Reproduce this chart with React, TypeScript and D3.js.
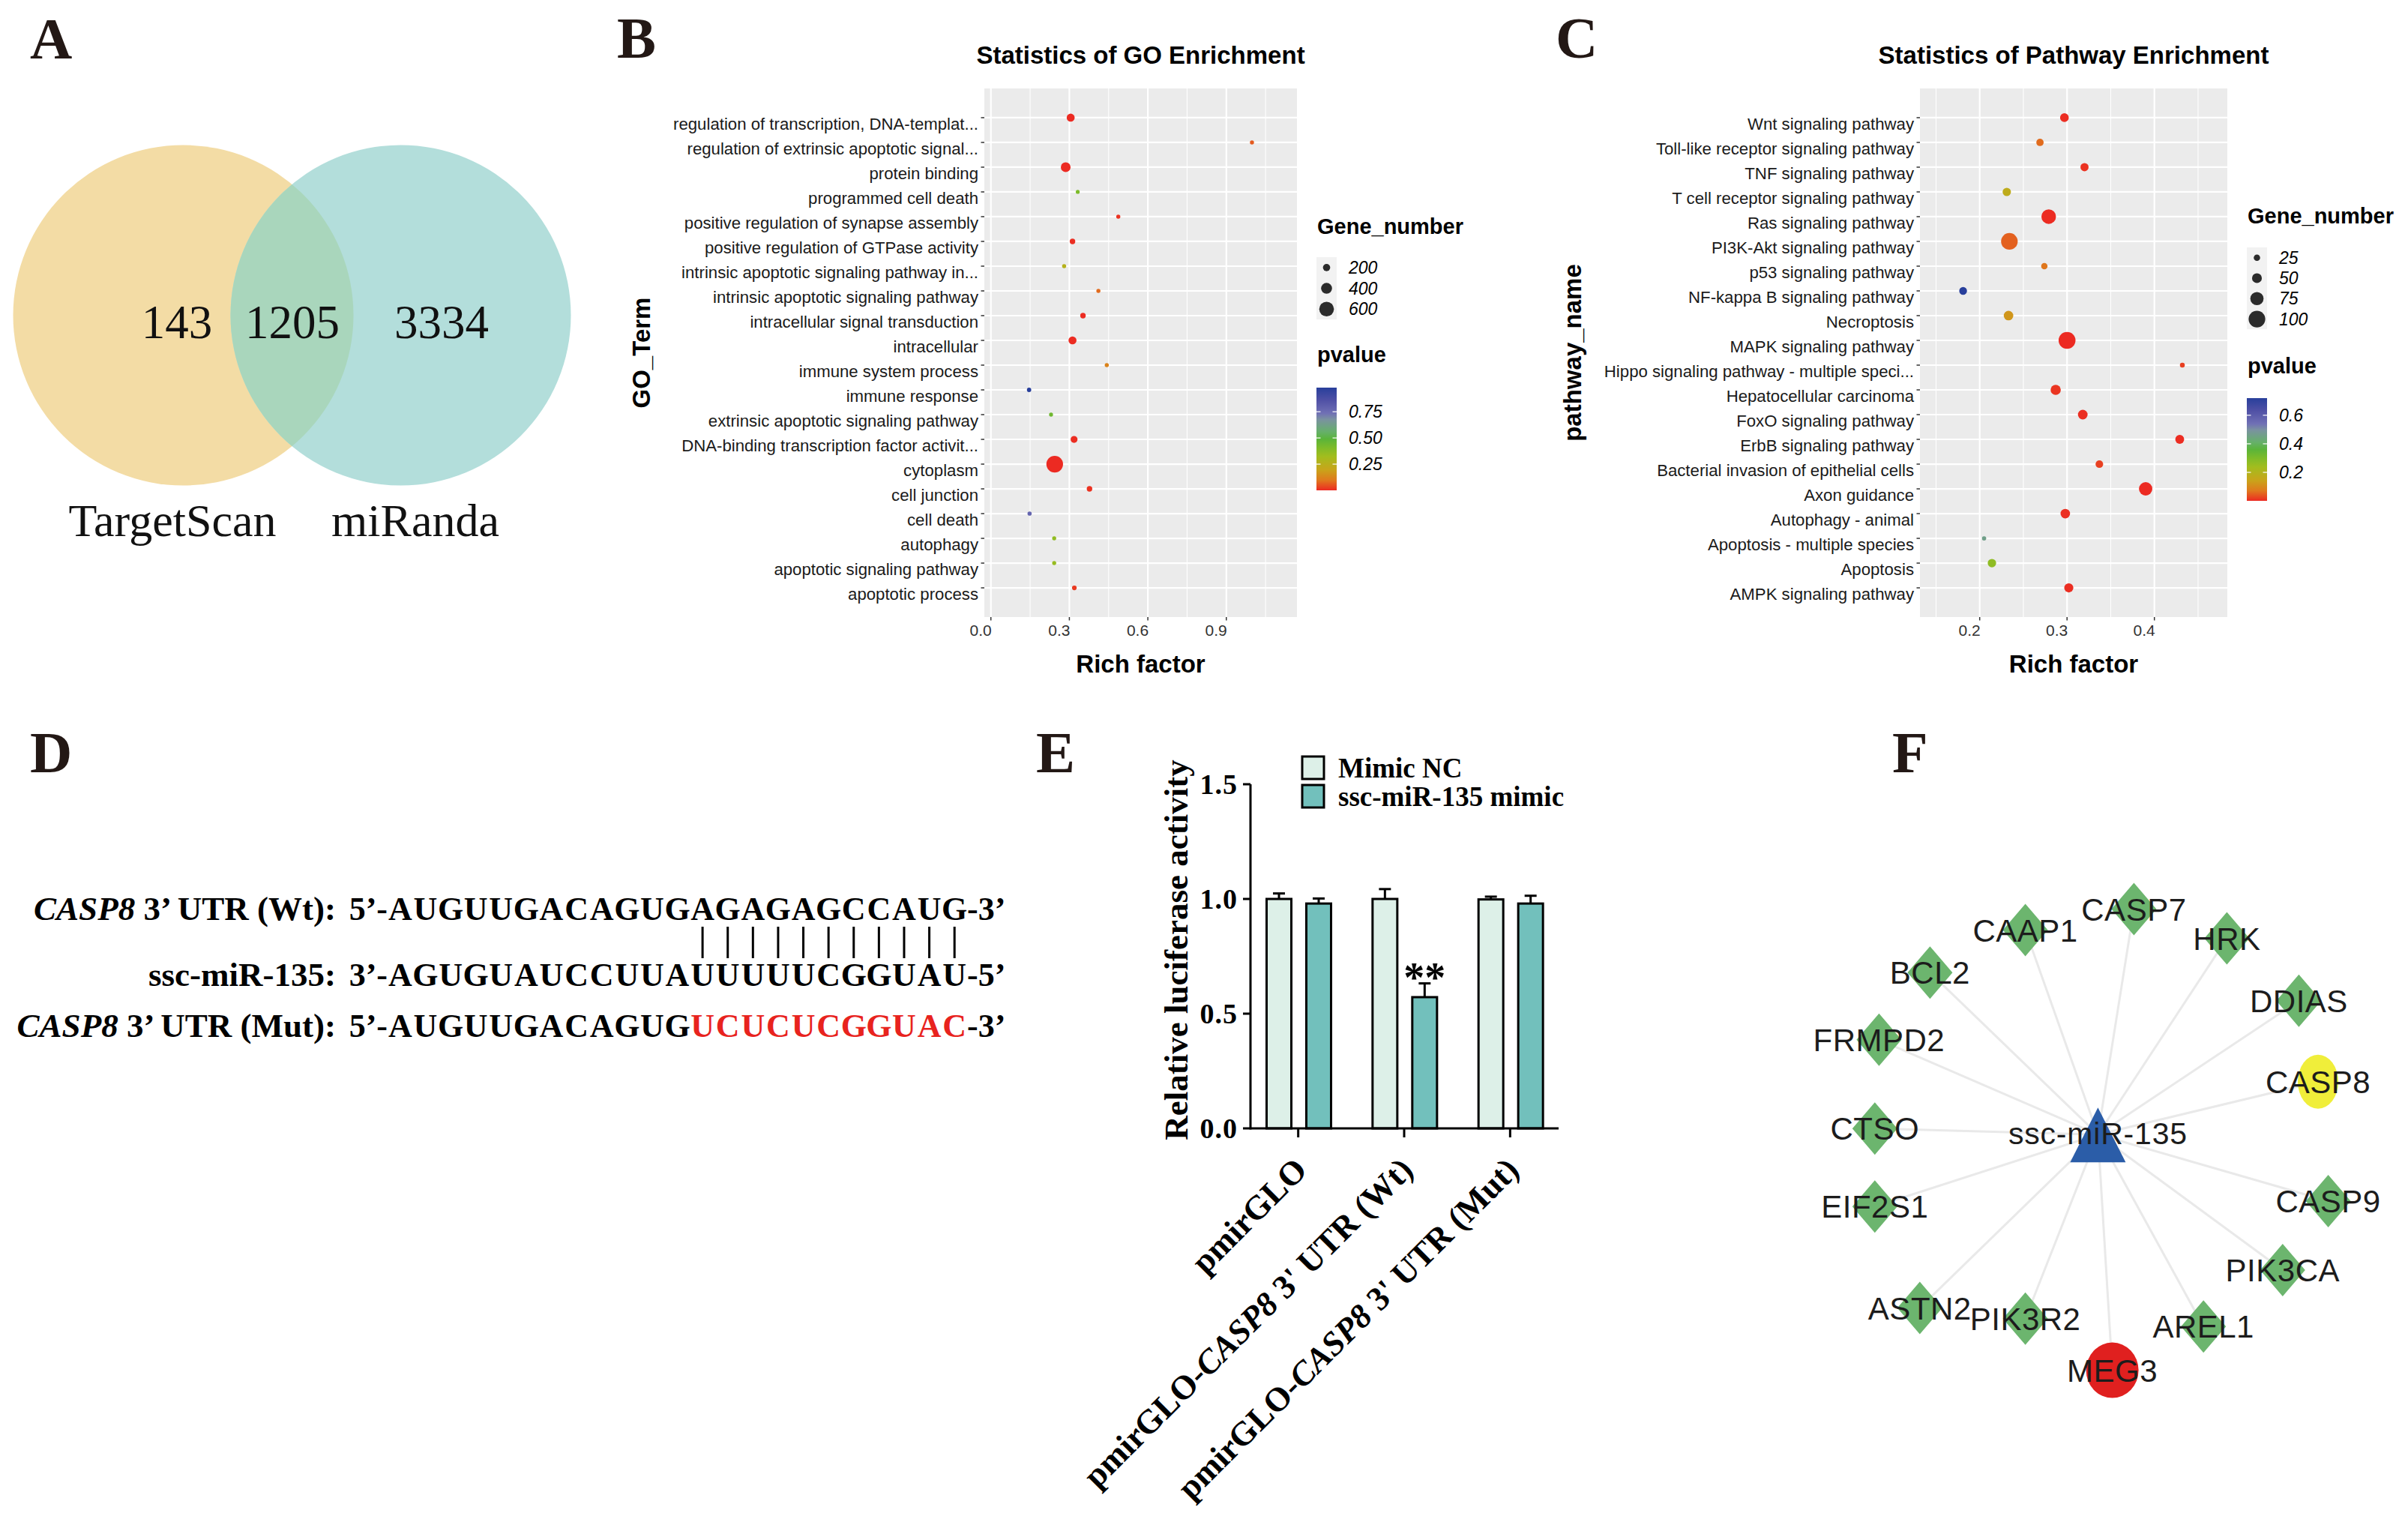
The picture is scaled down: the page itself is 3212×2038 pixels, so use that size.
import React from "react";
import * as d3 from "d3";

const SERIF = '"Liberation Serif", "Times New Roman", Times, serif';
const SANS = '"Liberation Sans", Arial, Helvetica, sans-serif';

// ---------- Panel A (Venn) ----------
const vennSets = ["TargetScan", "miRanda"];
const vennCounts = [143, 1205, 3334]; // TargetScan only, both, miRanda only

// ---------- Panel B (GO enrichment) ----------
const goTerms = [
  "regulation of transcription, DNA-templat...",
  "regulation of extrinsic apoptotic signal...",
  "protein binding",
  "programmed cell death",
  "positive regulation of synapse assembly",
  "positive regulation of GTPase activity",
  "intrinsic apoptotic signaling pathway in...",
  "intrinsic apoptotic signaling pathway",
  "intracellular signal transduction",
  "intracellular",
  "immune system process",
  "immune response",
  "extrinsic apoptotic signaling pathway",
  "DNA-binding transcription factor activit...",
  "cytoplasm",
  "cell junction",
  "cell death",
  "autophagy",
  "apoptotic signaling pathway",
  "apoptotic process",
];
const goRich = [0.305, 0.998, 0.286, 0.332, 0.487, 0.312, 0.28, 0.411, 0.352, 0.312, 0.443, 0.146, 0.23, 0.318, 0.244, 0.377, 0.148, 0.242, 0.242, 0.319];
const goGenes = [240, 28, 335, 18, 28, 105, 30, 28, 105, 240, 28, 40, 22, 180, 710, 105, 35, 25, 25, 60];
const goP = [0.001, 0.06, 0.0005, 0.41, 0.01, 0.005, 0.26, 0.08, 0.003, 0.002, 0.12, 0.98, 0.44, 0.004, 0.0001, 0.01, 0.78, 0.36, 0.35, 0.02];
const goXTicks = [0, 0.3, 0.6, 0.9];
const goSizeKeys = [200, 400, 600];
const goPTicks = [0.25, 0.5, 0.75];

// ---------- Panel C (pathway enrichment) ----------
const pathTerms = [
  "Wnt signaling pathway",
  "Toll-like receptor signaling pathway",
  "TNF signaling pathway",
  "T cell receptor signaling pathway",
  "Ras signaling pathway",
  "PI3K-Akt signaling pathway",
  "p53 signaling pathway",
  "NF-kappa B signaling pathway",
  "Necroptosis",
  "MAPK signaling pathway",
  "Hippo signaling pathway - multiple speci...",
  "Hepatocellular carcinoma",
  "FoxO signaling pathway",
  "ErbB signaling pathway",
  "Bacterial invasion of epithelial cells",
  "Axon guidance",
  "Autophagy - animal",
  "Apoptosis - multiple species",
  "Apoptosis",
  "AMPK signaling pathway",
];
const pathRich = [0.297, 0.269, 0.32, 0.231, 0.279, 0.234, 0.274, 0.181, 0.233, 0.3, 0.432, 0.287, 0.318, 0.429, 0.337, 0.39, 0.298, 0.205, 0.214, 0.302];
const pathGenes = [42, 32, 38, 39, 85, 100, 25, 35, 48, 102, 14, 53, 49, 43, 34, 76, 48, 10, 40, 45];
const pathP = [0.003, 0.06, 0.008, 0.17, 0.002, 0.05, 0.07, 0.72, 0.12, 0.0005, 0.02, 0.01, 0.005, 0.003, 0.02, 0.0008, 0.006, 0.46, 0.27, 0.004];
const pathXTicks = [0.2, 0.3, 0.4];
const pathSizeKeys = [25, 50, 75, 100];
const pathPTicks = [0.2, 0.4, 0.6];

// p-value colour gradient (fraction of range -> colour)
const gradStops = [0, 0.1, 0.2, 0.33, 0.42, 0.5, 0.57, 0.69, 0.75, 0.88, 1];
const gradColors = ["#EC2A22", "#DF7A1D", "#C9A41A", "#A2BD1E", "#7CBB2A", "#5AB43A", "#66B06A", "#7A92A0", "#7070B5", "#4F50A5", "#283F9B"];
const grad = d3.scaleLinear<string>().domain(gradStops).range(gradColors).interpolate(d3.interpolateRgb);

// ---------- Panel D (sequences) ----------
const seqWt = "AUGUUGACAGUGAGAGAGCCAUG";
const seqMir = "AGUGUAUCCUUAUUUUUCGGUAU";
const seqMut = "AUGUUGACAGUGUCUCUCGGUAC";
const pairIdx = [12, 13, 14, 15, 16, 17, 18, 19, 20, 21, 22];
const mutIdx = [12, 13, 14, 15, 16, 17, 18, 19, 20, 21, 22];

// ---------- Panel E (luciferase) ----------
const lucGroups = ["pmirGLO", "Wt", "Mut"];
const lucSeries = ["Mimic NC", "ssc-miR-135 mimic"];
const lucNC = [1.0, 1.0, 0.998];
const lucMimic = [0.98, 0.572, 0.98];
const lucNCErr = [0.024, 0.043, 0.012];
const lucMimicErr = [0.022, 0.06, 0.034];
const lucYTicks = [0, 0.5, 1.0, 1.5];

// ---------- Panel F (network) ----------
const netCenter = "ssc-miR-135";
const netCenterPos = [0.498, 0.454];
const netNodes = ["CASP7", "HRK", "DDIAS", "CASP8", "CASP9", "PIK3CA", "AREL1", "MEG3", "PIK3R2", "ASTN2", "EIF2S1", "CTSO", "FRMPD2", "BCL2", "CAAP1"];
const netType = ["gene", "gene", "gene", "target", "gene", "gene", "gene", "lnc", "gene", "gene", "gene", "gene", "gene", "gene", "gene"];
const netU = [0.558, 0.713, 0.833, 0.865, 0.882, 0.806, 0.674, 0.522, 0.377, 0.201, 0.126, 0.126, 0.133, 0.218, 0.377];
const netV = [0.078, 0.127, 0.231, 0.366, 0.565, 0.68, 0.774, 0.847, 0.761, 0.743, 0.574, 0.444, 0.296, 0.184, 0.113];

const panelLetters = ["A", "B", "C", "D", "E", "F"];
const panelLetterPos = [[40, 78], [823, 77], [2075, 77], [40, 1030], [1382, 1030], [2524, 1030]];

function PanelLetters() {
  return (
    <g>
      {panelLetters.map((l, i) => (
        <text key={l} x={panelLetterPos[i][0]} y={panelLetterPos[i][1]} fontFamily={SERIF} fontWeight="bold" fontSize={78} fill="#231815">
          {l}
        </text>
      ))}
    </g>
  );
}

function Venn() {
  const cx = d3.scaleLinear().domain([0, 1]).range([244.5, 534.5]);
  const cy = 420.5;
  const r = 227;
  return (
    <g>
      <defs>
        <clipPath id="vennLeftClip">
          <circle cx={cx(0)} cy={cy} r={r} />
        </clipPath>
      </defs>
      <circle cx={cx(0)} cy={cy} r={r} fill="#F3DCA5" />
      <circle cx={cx(1)} cy={cy} r={r} fill="#B3DEDB" />
      <circle cx={cx(1)} cy={cy} r={r} fill="#A9D6BC" clipPath="url(#vennLeftClip)" />
      {vennCounts.map((c, i) => (
        <text key={i} x={[236, 390, 589][i]} y={451} textAnchor="middle" fontFamily={SERIF} fontSize={63} fill="#111">
          {c}
        </text>
      ))}
      {vennSets.map((s, i) => (
        <text key={s} x={[230, 554][i]} y={715} textAnchor="middle" fontFamily={SERIF} fontSize={62} fill="#111">
          {s}
        </text>
      ))}
    </g>
  );
}

type DotCfg = {
  id: string;
  terms: string[];
  rich: number[];
  genes: number[];
  pv: number[];
  left: number;
  right: number;
  xDomain: [number, number];
  majors: number[];
  step: number;
  xFmt: string;
  title: string;
  yTitle: string;
  yTitleX: number;
  sizeDomain: [number, number];
  sizeRange: [number, number];
  sizeKeys: number[];
  pTicks: number[];
  pFmt: string;
  legX: number;
  geneTitleY: number;
  keysTop: number;
  keyStep: number;
  pTitleY: number;
  barTop: number;
  barBottom: number;
};

function DotPlot(cfg: DotCfg) {
  const top = 118;
  const bottom = 823;
  const x = d3.scaleLinear().domain(cfg.xDomain).range([cfg.left, cfg.right]);
  const y = d3.scalePoint<string>().domain(cfg.terms).range([top, bottom]).padding(1.18);
  const rs = d3.scaleLinear().domain(cfg.sizeDomain).range(cfg.sizeRange);
  const pExt = d3.extent(cfg.pv) as [number, number];
  const frac = d3.scaleLinear().domain(pExt).range([0, 1]);
  const barY = d3.scaleLinear().domain(pExt).range([cfg.barBottom, cfg.barTop]);
  const [d0, d1] = cfg.xDomain;
  const minors = d3
    .range(-4, 20)
    .map((k) => cfg.majors[0] + cfg.step * (k + 0.5))
    .filter((v) => v > d0 && v < d1);
  const xfmt = d3.format(cfg.xFmt);
  const pfmt = d3.format(cfg.pFmt);
  const midX = (cfg.left + cfg.right) / 2;
  const midY = (top + bottom) / 2;
  const barW = 27;
  return (
    <g>
      <defs>
        <linearGradient id={cfg.id + "grad"} x1="0" y1="1" x2="0" y2="0">
          {gradStops.map((s, i) => (
            <stop key={i} offset={s} stopColor={gradColors[i]} />
          ))}
        </linearGradient>
      </defs>
      <text x={midX} y={85} textAnchor="middle" fontFamily={SANS} fontWeight="bold" fontSize={33} fill="#000">
        {cfg.title}
      </text>
      <rect x={cfg.left} y={top} width={cfg.right - cfg.left} height={bottom - top} fill="#EBEBEB" />
      {minors.map((v) => (
        <line key={"mi" + v} x1={x(v)} x2={x(v)} y1={top} y2={bottom} stroke="#fff" strokeWidth={1.1} />
      ))}
      {cfg.majors.map((v) => (
        <line key={"ma" + v} x1={x(v)} x2={x(v)} y1={top} y2={bottom} stroke="#fff" strokeWidth={2.2} />
      ))}
      {cfg.terms.map((t) => (
        <line key={"h" + t} x1={cfg.left} x2={cfg.right} y1={y(t)} y2={y(t)} stroke="#fff" strokeWidth={2.2} />
      ))}
      {cfg.terms.map((t, i) => (
        <circle key={"p" + t} cx={x(cfg.rich[i])} cy={y(t)} r={rs(cfg.genes[i])} fill={grad(frac(cfg.pv[i]))} />
      ))}
      {/* y axis ticks & labels (labels hang below the tick: vjust = 1) */}
      {cfg.terms.map((t) => (
        <g key={"yl" + t}>
          <line x1={cfg.left - 4.5} x2={cfg.left} y1={y(t)} y2={y(t)} stroke="#333" strokeWidth={1.5} />
          <text x={cfg.left - 8} y={y(t)} dy="0.73em" textAnchor="end" fontFamily={SANS} fontSize={22.2} fill="#1a1a1a">
            {t}
          </text>
        </g>
      ))}
      {/* x axis ticks & labels (right-aligned at tick: hjust = 1) */}
      {cfg.majors.map((v) => (
        <g key={"xl" + v}>
          <line x1={x(v)} x2={x(v)} y1={bottom} y2={bottom + 4.5} stroke="#333" strokeWidth={1.5} />
          <text x={x(v) + 1} y={bottom + 25} textAnchor="end" fontFamily={SANS} fontSize={21} fill="#333">
            {xfmt(v)}
          </text>
        </g>
      ))}
      <text x={midX} y={897} textAnchor="middle" fontFamily={SANS} fontWeight="bold" fontSize={33} fill="#000">
        Rich factor
      </text>
      <text
        transform={`translate(${cfg.yTitleX},${midY}) rotate(-90)`}
        textAnchor="middle"
        fontFamily={SANS}
        fontWeight="bold"
        fontSize={33}
        fill="#000"
      >
        {cfg.yTitle}
      </text>
      {/* size legend */}
      <text x={cfg.legX + 1} y={cfg.geneTitleY} fontFamily={SANS} fontWeight="bold" fontSize={29} fill="#000">
        Gene_number
      </text>
      <rect x={cfg.legX} y={cfg.keysTop} width={barW} height={cfg.keyStep * cfg.sizeKeys.length} fill="#F2F2F2" />
      {cfg.sizeKeys.map((k, i) => {
        const cyk = cfg.keysTop + cfg.keyStep * (i + 0.5);
        return (
          <g key={"k" + k}>
            <circle cx={cfg.legX + barW / 2} cy={cyk} r={rs(k)} fill="#2b2b2b" />
            <text x={cfg.legX + 43} y={cyk} dy="0.35em" fontFamily={SANS} fontStyle="italic" fontSize={23} fill="#000">
              {k}
            </text>
          </g>
        );
      })}
      {/* colour legend */}
      <text x={cfg.legX + 1} y={cfg.pTitleY} fontFamily={SANS} fontWeight="bold" fontSize={29} fill="#000">
        pvalue
      </text>
      <rect x={cfg.legX} y={cfg.barTop} width={barW} height={cfg.barBottom - cfg.barTop} fill={`url(#${cfg.id}grad)`} />
      {cfg.pTicks.map((t) => (
        <g key={"pt" + t}>
          <line x1={cfg.legX} x2={cfg.legX + 5.5} y1={barY(t)} y2={barY(t)} stroke="#fff" strokeWidth={1.2} />
          <line x1={cfg.legX + barW - 5.5} x2={cfg.legX + barW} y1={barY(t)} y2={barY(t)} stroke="#fff" strokeWidth={1.2} />
          <text x={cfg.legX + 43} y={barY(t)} dy="0.35em" fontFamily={SANS} fontStyle="italic" fontSize={23} fill="#000">
            {pfmt(t)}
          </text>
        </g>
      ))}
    </g>
  );
}

function Sequences() {
  const idx = d3.range(seqWt.length);
  const xs = d3.scaleBand<number>().domain(idx).range([517, 1290]);
  const fs = 44;
  const rows = [
    { lab: [["CASP8", true], [" 3\u2019 UTR (Wt):", false]], pre: "5\u2019-", seq: seqWt, suf: "-3\u2019", y: 1227, red: [] as number[] },
    { lab: [["ssc-miR-135:", false]], pre: "3\u2019-", seq: seqMir, suf: "-5\u2019", y: 1315, red: [] as number[] },
    { lab: [["CASP8", true], [" 3\u2019 UTR (Mut):", false]], pre: "5\u2019-", seq: seqMut, suf: "-3\u2019", y: 1383, red: mutIdx },
  ];
  return (
    <g fontFamily={SERIF} fontWeight="bold" fontSize={fs} fill="#000">
      {rows.map((r, ri) => (
        <g key={ri}>
          <text x={448} y={r.y} textAnchor="end" fontSize={45}>
            {r.lab.map((p, k) => (
              <tspan key={k} fontStyle={p[1] ? "italic" : "normal"}>
                {p[0] as string}
              </tspan>
            ))}
          </text>
          <text x={xs(0)} y={r.y} textAnchor="end">
            {r.pre}
          </text>
          {r.seq.split("").map((c, i) => (
            <text key={i} x={(xs(i) as number) + xs.bandwidth() / 2} y={r.y} textAnchor="middle" fill={r.red.includes(i) ? "#E8231E" : "#000"}>
              {c}
            </text>
          ))}
          <text x={(xs(seqWt.length - 1) as number) + xs.bandwidth()} y={r.y} textAnchor="start">
            {r.suf}
          </text>
        </g>
      ))}
      {pairIdx.map((i) => (
        <line key={"pair" + i} x1={(xs(i) as number) + xs.bandwidth() / 2} x2={(xs(i) as number) + xs.bandwidth() / 2} y1={1236} y2={1278} stroke="#000" strokeWidth={3} />
      ))}
    </g>
  );
}

function Luciferase() {
  const y = d3.scaleLinear().domain([0, 1.5]).range([1505, 1046]);
  const x0 = d3.scaleBand<string>().domain(lucGroups).range([1661, 2085]);
  const x1 = d3.scaleBand<string>().domain(lucSeries).range([28.5, 114.5]).paddingInner(0.377);
  const axisX = 1668;
  const fills = ["#DDF0E8", "#72C0BC"];
  const vals = [lucNC, lucMimic];
  const errs = [lucNCErr, lucMimicErr];
  const fmt = d3.format(".1f");
  const labels: [string, boolean][][] = [
    [["pmirGLO", false]],
    [["pmirGLO-", false], ["CASP8", true], [" 3' UTR (Wt)", false]],
    [["pmirGLO-", false], ["CASP8", true], [" 3' UTR (Mut)", false]],
  ];
  const sig = ["", "**", ""];
  return (
    <g fontFamily={SERIF} fontWeight="bold" fill="#000">
      {lucGroups.map((g, gi) =>
        lucSeries.map((s, si) => {
          const bx = (x0(g) as number) + (x1(s) as number);
          const bw = x1.bandwidth();
          const v = vals[si][gi];
          const e = errs[si][gi];
          const cxm = bx + bw / 2;
          return (
            <g key={g + s}>
              <line x1={cxm} x2={cxm} y1={y(v)} y2={y(v + e)} stroke="#000" strokeWidth={3} />
              <line x1={cxm - 8} x2={cxm + 8} y1={y(v + e)} y2={y(v + e)} stroke="#000" strokeWidth={3} />
              <rect x={bx} y={y(v)} width={bw} height={y(0) - y(v)} fill={fills[si]} stroke="#000" strokeWidth={3} />
              {si === 1 && sig[gi] && (
                <text x={cxm} y={y(v + e) + 11} textAnchor="middle" fontSize={56}>
                  {sig[gi]}
                </text>
              )}
            </g>
          );
        })
      )}
      <line x1={axisX} x2={axisX} y1={y(1.5)} y2={y(0) + 1.5} stroke="#000" strokeWidth={3} />
      <line x1={axisX} x2={2079} y1={y(0)} y2={y(0)} stroke="#000" strokeWidth={3} />
      {lucYTicks.map((t) => (
        <g key={"yt" + t}>
          <line x1={axisX - 10} x2={axisX} y1={y(t)} y2={y(t)} stroke="#000" strokeWidth={3} />
          <text x={1651} y={y(t)} dy="0.35em" textAnchor="end" fontSize={38} letterSpacing={1}>
            {fmt(t)}
          </text>
        </g>
      ))}
      {lucGroups.map((g, gi) => {
        const c = (x0(g) as number) + x0.bandwidth() / 2;
        return (
          <g key={"xt" + g}>
            <line x1={c} x2={c} y1={y(0)} y2={y(0) + 12} stroke="#000" strokeWidth={3} />
            <text transform={`translate(${c + 14},${y(0) + 58}) rotate(-45)`} textAnchor="end" fontSize={45}>
              {labels[gi].map((p, k) => (
                <tspan key={k} fontStyle={p[1] ? "italic" : "normal"}>
                  {p[0]}
                </tspan>
              ))}
            </text>
          </g>
        );
      })}
      <text transform={`translate(1584,1267) rotate(-90)`} textAnchor="middle" fontSize={45}>
        Relative luciferase activity
      </text>
      {lucSeries.map((s, si) => (
        <g key={"leg" + s}>
          <rect x={1737} y={1009 + si * 38} width={29} height={30} fill={fills[si]} stroke="#000" strokeWidth={3} />
          <text x={1785} y={1037 + si * 38} fontSize={37}>
            {s}
          </text>
        </g>
      ))}
    </g>
  );
}

function Network() {
  const nx = d3.scaleLinear().domain([0, 1]).range([2400, 3200]);
  const ny = d3.scaleLinear().domain([0, 1]).range([1150, 1950]);
  const cxp = nx(netCenterPos[0]);
  const cyp = ny(netCenterPos[1]);
  const diamond = (x: number, y: number) => `M${x},${y - 35} L${x + 30},${y} L${x},${y + 35} L${x - 30},${y} Z`;
  return (
    <g>
      {netNodes.map((n, i) => (
        <line key={"e" + n} x1={cxp} y1={cyp} x2={nx(netU[i])} y2={ny(netV[i])} stroke="#E9E9E9" strokeWidth={3} />
      ))}
      {netNodes.map((n, i) => {
        const x = nx(netU[i]);
        const y = ny(netV[i]);
        if (netType[i] === "target") return <ellipse key={"n" + n} cx={x} cy={y} rx={27} ry={36} fill="#F0EE3A" />;
        if (netType[i] === "lnc") return <ellipse key={"n" + n} cx={x} cy={y} rx={35} ry={37} fill="#E0201F" />;
        return <path key={"n" + n} d={diamond(x, y)} fill="#6CB56E" />;
      })}
      <path d={`M${cxp},${cyp - 36} L${cxp + 37},${cyp + 37} L${cxp - 37},${cyp + 37} Z`} fill="#2B5DA8" />
      {netNodes.map((n, i) => (
        <text key={"t" + n} x={nx(netU[i])} y={ny(netV[i])} dy="0.36em" textAnchor="middle" fontFamily={SANS} fontSize={42} fill="#1c1c1c" letterSpacing={0.5}>
          {n}
        </text>
      ))}
      <text x={cxp} y={cyp + 13} textAnchor="middle" fontFamily={SANS} fontSize={41} fill="#1c1c1c" letterSpacing={0.8}>
        {netCenter}
      </text>
    </g>
  );
}

const goCfg: DotCfg = {
  id: "go",
  terms: goTerms,
  rich: goRich,
  genes: goGenes,
  pv: goP,
  left: 1313,
  right: 1730,
  xDomain: [-0.025, 1.17],
  majors: goXTicks,
  step: 0.3,
  xFmt: ".1f",
  title: "Statistics of GO Enrichment",
  yTitle: "GO_Term",
  yTitleX: 867,
  sizeDomain: [0, 700],
  sizeRange: [2.4, 11],
  sizeKeys: goSizeKeys,
  pTicks: goPTicks,
  pFmt: ".2f",
  legX: 1756,
  geneTitleY: 312,
  keysTop: 343,
  keyStep: 27.7,
  pTitleY: 483,
  barTop: 517,
  barBottom: 654,
};

const pathCfg: DotCfg = {
  id: "path",
  terms: pathTerms,
  rich: pathRich,
  genes: pathGenes,
  pv: pathP,
  left: 2561,
  right: 2971,
  xDomain: [0.1316, 0.4835],
  majors: pathXTicks,
  step: 0.1,
  xFmt: ".1f",
  title: "Statistics of Pathway Enrichment",
  yTitle: "pathway_name",
  yTitleX: 2109,
  sizeDomain: [0, 100],
  sizeRange: [2, 11.1],
  sizeKeys: pathSizeKeys,
  pTicks: pathPTicks,
  pFmt: ".1f",
  legX: 2997,
  geneTitleY: 298,
  keysTop: 330,
  keyStep: 27.3,
  pTitleY: 498,
  barTop: 531,
  barBottom: 668,
};

export default function App() {
  return (
    <div style={{ position: "absolute", left: 0, top: 0 }}>
      <svg width={3212} height={2038} viewBox="0 0 3212 2038" style={{ display: "block", background: "#fff" }}>
        <rect width={3212} height={2038} fill="#fff" />
        <PanelLetters />
        <Venn />
        <DotPlot {...goCfg} />
        <DotPlot {...pathCfg} />
        <Sequences />
        <Luciferase />
        <Network />
      </svg>
    </div>
  );
}
